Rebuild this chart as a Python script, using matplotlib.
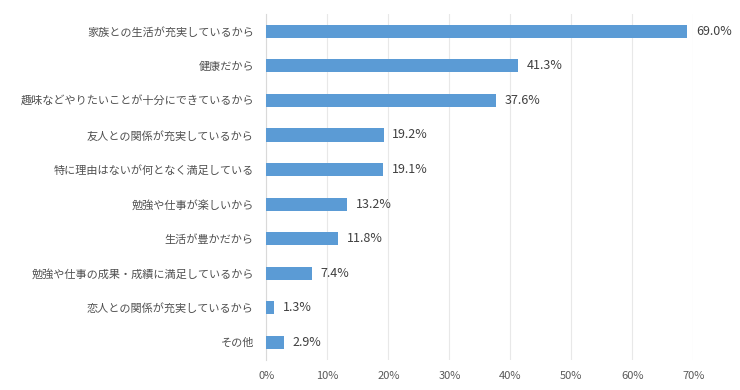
import matplotlib
matplotlib.use("Agg")
import matplotlib.pyplot as plt
import numpy as np

plt.rcParams['font.family'] = ['Noto Sans CJK JP', 'DejaVu Sans']

categories = [
    '家族との生活が充実しているから',
    '健康だから',
    '趣味などやりたいことが十分にできているから',
    '友人との関係が充実しているから',
    '特に理由はないが何となく満足している',
    '勉強や仕事が楽しいから',
    '生活が豊かだから',
    '勉強や仕事の成果・成績に満足しているから',
    '恋人との関係が充実しているから',
    'その他',
]
values = [69.0, 41.3, 37.6, 19.2, 19.1, 13.2, 11.8, 7.4, 1.3, 2.9]
xticks = [0, 10, 20, 30, 40, 50, 60, 70]

fig = plt.figure(figsize=(7.4, 3.9), dpi=100)
ax = fig.add_axes([0.360, 0.078, 0.577, 0.886])

y = np.arange(len(categories))
ax.barh(y, values, height=0.38, color='#5B9BD5', zorder=3)
for yi, v in zip(y, values):
    ax.text(v + 1.4, yi, f'{v:.1f}%', va='center', ha='left', fontsize=9, color='#404040')

ax.set_xlim(0, 70)
ax.set_ylim(len(categories) - 0.5, -0.5)
ax.set_yticks(y)
ax.set_yticklabels(categories, fontsize=8, color='#505050')
ax.set_xticks(xticks)
ax.set_xticklabels([f'{t}%' for t in xticks], fontsize=8, color='#595959')
ax.tick_params(axis='both', length=0)
ax.tick_params(axis='y', pad=9)
ax.tick_params(axis='x', pad=8)
ax.grid(axis='x', color='#E8E8E8', linewidth=0.8, zorder=0)
for s in ['top', 'right', 'bottom']:
    ax.spines[s].set_visible(False)
ax.spines['left'].set_color('#D9D9D9')

fig.savefig('out.png', dpi=100)
